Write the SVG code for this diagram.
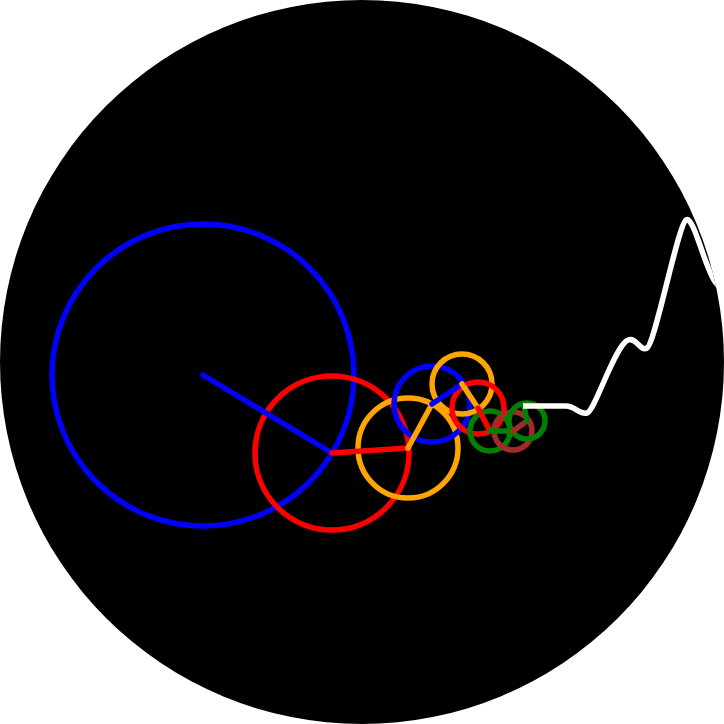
<svg xmlns="http://www.w3.org/2000/svg" width="724" height="724" viewBox="0 0 724 724">
<style>
.c{fill:none;stroke-width:5.5}
.l{stroke-width:5.5;stroke-linecap:round}
</style>
<defs><clipPath id="clip"><circle cx="362" cy="362" r="362"/></clipPath></defs>
<rect width="724" height="724" fill="#fff"/>
<circle cx="362" cy="362" r="362" fill="#000"/>
<g clip-path="url(#clip)">
<g id="epicycles">
<g id="c1"><circle class="c" cx="203" cy="375" r="151" stroke="#0000ff"/></g>
<g id="c2"><circle class="c" cx="332" cy="453" r="77" stroke="#ff0000"/></g>
<g id="c3"><circle class="c" cx="408" cy="448" r="50" stroke="#ffa500"/></g>
<g id="c4"><circle class="c" cx="432" cy="404" r="38" stroke="#0000ff"/></g>
<g id="c5"><circle class="c" cx="462" cy="384" r="30" stroke="#ffa500"/></g>
<g id="c6"><circle class="c" cx="478" cy="408" r="26" stroke="#ff0000"/></g>
<g id="c7"><circle class="c" cx="490" cy="431" r="20" stroke="#008000"/></g>
<g id="c8"><circle class="c" cx="513" cy="431" r="19" stroke="#a52a2a"/></g>
<g id="c9"><circle class="c" cx="527" cy="421" r="18" stroke="#008000"/></g>
</g>
<g id="connectors">
<line class="l" x1="203" y1="375" x2="332" y2="453" stroke="#0000ff"/>
<line class="l" x1="332" y1="453" x2="408" y2="448" stroke="#ff0000"/>
<line class="l" x1="408" y1="448" x2="432" y2="404" stroke="#ffa500"/>
<line class="l" x1="432" y1="404" x2="462" y2="384" stroke="#0000ff"/>
<line class="l" x1="462" y1="384" x2="478" y2="408" stroke="#ffa500"/>
<line class="l" x1="478" y1="408" x2="490" y2="431" stroke="#ff0000"/>
<line class="l" x1="490" y1="431" x2="513" y2="431" stroke="#008000"/>
<line class="l" x1="513" y1="431" x2="527" y2="421" stroke="#a52a2a"/>
<line class="l" x1="527" y1="421" x2="524" y2="406" stroke="#008000"/>
</g>
<path id="wave" d="M523,406 L566,406 C575,406 580,415 587,413 C595,411 615,345 628,340 C637,337 640,352 647,348 C655,344 678,225 686,220 C694,215 705,270 716,283 L730,300" fill="none" stroke="#fff" stroke-width="5.5" stroke-linejoin="round"/>
</g>
</svg>
